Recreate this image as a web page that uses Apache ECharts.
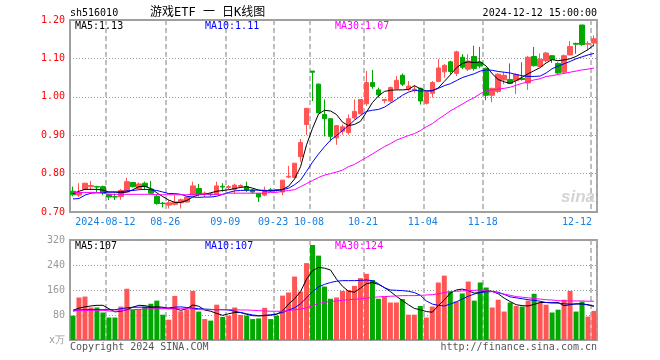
<!DOCTYPE html>
<html><head><meta charset="utf-8">
<script src="https://cdn.jsdelivr.net/npm/echarts/dist/echarts.min.js"></script>
<style>html,body{margin:0;padding:0;background:#fff}#c{width:660px;height:360px}</style>
</head><body><div id="c"></div>
<script>
const dates = ['2024-08-02','2024-08-05','2024-08-06','2024-08-07','2024-08-08','2024-08-09',
'2024-08-12','2024-08-13','2024-08-14','2024-08-15','2024-08-16','2024-08-19','2024-08-20','2024-08-21','2024-08-22','2024-08-23',
'2024-08-26','2024-08-27','2024-08-28','2024-08-29','2024-08-30','2024-09-02','2024-09-03','2024-09-04','2024-09-05','2024-09-06',
'2024-09-09','2024-09-10','2024-09-11','2024-09-12','2024-09-13','2024-09-18','2024-09-19','2024-09-20',
'2024-09-23','2024-09-24','2024-09-25','2024-09-26','2024-09-27','2024-09-30',
'2024-10-08','2024-10-09','2024-10-10','2024-10-11','2024-10-14','2024-10-15','2024-10-16','2024-10-17','2024-10-18',
'2024-10-21','2024-10-22','2024-10-23','2024-10-24','2024-10-25','2024-10-28','2024-10-29','2024-10-30','2024-10-31','2024-11-01',
'2024-11-04','2024-11-05','2024-11-06','2024-11-07','2024-11-08','2024-11-11','2024-11-12','2024-11-13','2024-11-14','2024-11-15',
'2024-11-18','2024-11-19','2024-11-20','2024-11-21','2024-11-22','2024-11-25','2024-11-26','2024-11-27','2024-11-28','2024-11-29',
'2024-12-02','2024-12-03','2024-12-04','2024-12-05','2024-12-06','2024-12-09','2024-12-10','2024-12-11','2024-12-12'];

const opens = [0.754,0.744,0.759,0.766,0.766,0.766,0.746,0.740,0.740,0.752,
0.777,0.761,0.775,0.760,0.741,0.723,0.718,0.720,0.724,0.726,
0.744,0.761,0.747,0.747,0.746,0.767,0.764,0.759,0.766,0.766,
0.757,0.748,0.744,0.758,0.758,0.752,0.791,0.790,0.844,0.928,
1.067,1.033,0.954,0.943,0.893,0.910,0.907,0.945,0.956,0.982,
1.037,1.018,0.990,0.989,1.021,1.056,1.019,1.018,1.022,0.983,
1.009,1.040,1.065,1.091,1.061,1.103,1.072,1.105,1.090,1.074,
1.004,1.014,1.044,1.045,1.042,1.048,1.036,1.105,1.079,1.094,
1.107,1.087,1.064,1.109,1.139,1.187,1.137,1.140];
const closes = [0.745,0.750,0.775,0.769,0.765,0.750,0.739,0.739,0.756,0.779,
0.766,0.773,0.766,0.749,0.722,0.722,0.724,0.726,0.732,0.739,
0.768,0.746,0.749,0.745,0.768,0.765,0.766,0.770,0.769,0.757,
0.752,0.739,0.757,0.756,0.757,0.783,0.793,0.827,0.881,0.970,
1.064,0.958,0.943,0.897,0.925,0.922,0.943,0.962,0.993,1.037,
1.027,1.005,0.993,1.024,1.043,1.033,1.028,1.020,0.989,1.011,
1.037,1.075,1.082,1.066,1.117,1.077,1.093,1.074,1.080,1.004,
1.022,1.059,1.056,1.035,1.058,1.045,1.103,1.081,1.098,1.114,
1.097,1.062,1.107,1.131,1.137,1.136,1.139,1.151];
const lows = [0.741,0.739,0.759,0.757,0.752,0.744,0.731,0.731,0.732,0.752,
0.764,0.761,0.757,0.746,0.719,0.712,0.709,0.717,0.709,0.725,
0.742,0.741,0.739,0.741,0.744,0.753,0.760,0.748,0.763,0.752,
0.748,0.726,0.741,0.753,0.753,0.744,0.788,0.790,0.831,0.901,
0.989,0.958,0.897,0.884,0.875,0.901,0.901,0.941,0.954,0.976,
1.021,0.998,0.983,0.985,1.019,1.028,1.015,1.011,0.980,0.980,
0.998,1.038,1.050,1.059,1.054,1.072,1.067,1.068,1.074,0.991,
0.986,1.010,1.033,1.033,1.007,1.042,1.018,1.079,1.078,1.090,
1.088,1.060,1.063,1.108,1.112,1.133,1.121,1.131];
const highs = [0.766,0.775,0.776,0.781,0.768,0.769,0.748,0.748,0.760,0.789,
0.777,0.777,0.779,0.781,0.746,0.726,0.731,0.744,0.735,0.741,
0.779,0.773,0.753,0.749,0.779,0.775,0.770,0.774,0.772,0.779,
0.760,0.748,0.766,0.762,0.760,0.783,0.820,0.827,0.890,0.970,
1.067,1.035,0.993,0.943,0.925,0.928,0.954,0.993,0.993,1.067,
1.070,1.024,0.995,1.027,1.054,1.061,1.041,1.030,1.024,1.013,
1.041,1.098,1.085,1.094,1.120,1.111,1.111,1.133,1.130,1.076,
1.024,1.061,1.064,1.087,1.061,1.090,1.106,1.130,1.113,1.117,
1.108,1.090,1.110,1.145,1.141,1.187,1.145,1.160];

const ma5 = [0.748,0.754,0.759,0.759,0.759,0.757,0.752,0.752,0.750,0.752,
0.758,0.766,0.767,0.761,0.750,0.740,0.731,0.725,0.725,0.730,
0.739,0.745,0.746,0.750,0.754,0.756,0.758,0.761,0.764,0.766,
0.762,0.757,0.755,0.755,0.756,0.759,0.767,0.786,0.818,0.875,
0.918,0.955,0.965,0.963,0.954,0.934,0.925,0.928,0.936,0.960,
0.985,1.002,1.014,1.017,1.018,1.018,1.019,1.029,1.021,1.015,
1.016,1.023,1.040,1.057,1.075,1.087,1.091,1.089,1.091,1.080,
1.060,1.045,1.039,1.035,1.042,1.051,1.060,1.068,1.076,1.088,
1.097,1.094,1.096,1.099,1.105,1.114,1.123,1.135];
const ma10 = [0.734,0.735,0.744,0.749,0.750,0.750,0.752,0.752,0.753,0.755,
0.756,0.758,0.759,0.758,0.756,0.752,0.748,0.748,0.746,0.741,
0.739,0.738,0.739,0.739,0.741,0.746,0.751,0.755,0.756,0.757,
0.757,0.757,0.756,0.755,0.756,0.758,0.762,0.771,0.783,0.806,
0.830,0.851,0.870,0.887,0.899,0.912,0.925,0.939,0.951,0.962,
0.965,0.967,0.973,0.983,0.993,1.004,1.012,1.017,1.015,1.015,
1.016,1.022,1.029,1.034,1.042,1.050,1.055,1.060,1.067,1.070,
1.069,1.066,1.064,1.062,1.058,1.055,1.053,1.053,1.054,1.062,
1.073,1.080,1.086,1.092,1.099,1.104,1.109,1.113];
const ma30 = [0.751,0.751,0.751,0.751,0.751,0.749,0.746,0.746,0.746,0.746,
0.746,0.746,0.746,0.746,0.745,0.745,0.745,0.745,0.745,0.745,
0.746,0.746,0.746,0.746,0.746,0.746,0.749,0.749,0.749,0.749,
0.749,0.749,0.749,0.751,0.751,0.754,0.756,0.758,0.766,0.774,
0.782,0.790,0.796,0.800,0.804,0.809,0.818,0.824,0.833,0.842,
0.851,0.861,0.870,0.878,0.887,0.893,0.899,0.904,0.912,0.922,
0.930,0.942,0.952,0.963,0.972,0.981,0.990,0.998,1.008,1.016,
1.018,1.020,1.022,1.025,1.030,1.035,1.039,1.044,1.047,1.053,
1.055,1.058,1.061,1.064,1.067,1.070,1.072,1.075];

const volumes = [78,136,139,104,104,88,72,72,107,164,
96,99,107,116,126,81,65,141,92,97,
157,91,67,62,113,74,78,104,80,78,
67,69,103,67,78,142,152,203,155,246,
304,270,171,132,136,157,160,173,198,212,
192,132,139,120,120,131,81,81,109,72,
107,184,206,155,123,149,187,126,184,168,
104,129,91,120,109,107,126,148,120,113,
88,97,129,157,91,123,75,93];
const vma5 = [95,102,106,109,111,111,100,90,92,97,
105,111,110,106,106,105,100,101,95,100,
112,108,96,92,85,79,84,88,88,82,
78,77,78,80,82,93,115,132,155,195,
222,232,230,224,195,172,156,153,166,180,
184,178,168,155,140,126,113,101,97,91,
89,110,128,150,160,163,158,150,152,158,
156,148,134,123,113,110,109,114,120,120,
119,120,110,113,116,115,113,108];
const vma10 = [93,96,97,97,97,97,97,97,100,103,
105,105,105,104,103,102,103,105,106,104,
102,100,99,98,97,97,96,92,88,84,
80,78,79,80,84,88,96,103,116,135,
155,170,178,184,188,190,190,190,191,192,
190,180,167,160,159,158,156,152,143,125,
115,111,109,115,122,131,140,147,152,154,
155,153,146,138,135,132,129,127,124,120,
119,118,116,115,115,116,112,108];
const vma30 = [93,94,94,95,95,95,93,92,94,96,
97,98,99,100,100,100,100,100,100,100,
99,97,97,97,97,97,97,97,96,96,
95,94,93,92,92,92,94,97,99,103,
110,117,121,123,125,127,129,130,132,134,
136,138,139,140,141,142,142,142,143,144,
145,148,152,155,156,157,158,159,160,158,
155,150,147,143,139,137,135,133,131,129,
128,126,125,125,125,125,124,124];

const tickDates = ['2024-08-12','2024-08-26','2024-09-09','2024-09-23','2024-10-08','2024-10-21','2024-11-04','2024-11-18','2024-12-12'];
const priceTicks = [0.70, 0.80, 0.90, 1.00, 1.10, 1.20];
const volTicks = [0, 80, 160, 240, 320];

const MONO = "'DejaVu Sans Mono', monospace";
const UP = '#ff5555', DOWN = '#00a800';
const tickIdx = tickDates.map(d => dates.indexOf(d));
const isTick = i => tickIdx.indexOf(i) >= 0;
const candle = dates.map((d, i) => [opens[i], closes[i], lows[i], highs[i]]);
const volData = volumes.map((v, i) => ({value: v, itemStyle: {color: closes[i] >= opens[i] ? UP : DOWN}}));

const vSplit = {show: true, interval: (i) => isTick(i), lineStyle: {color: '#aaa', type: [5, 3], width: 1.5}};
const hSplit = {show: true, lineStyle: {color: '#999', type: [1, 2], width: 1}};

function txt(x, y, s, color, align, size, fam) {
  return {type: 'text', x: x, y: y, silent: true, z: 100,
    style: {text: s, fill: color, font: (size || 10) + 'px ' + (fam || MONO), textAlign: align || 'left', textVerticalAlign: 'middle'}};
}

const chart = echarts.init(document.getElementById('c'), null, {renderer: 'canvas'});
chart.setOption({
  animation: false,
  backgroundColor: '#fff',
  grid: [
    {left: 70, top: 20, width: 527, height: 192, show: true, borderColor: '#a0a0a0', borderWidth: 2},
    {left: 70, top: 240, width: 527, height: 100, show: true, borderColor: '#a0a0a0', borderWidth: 2}
  ],
  xAxis: [
    {type: 'category', gridIndex: 0, data: dates, boundaryGap: true,
      axisLine: {show: false}, axisTick: {show: false},
      axisLabel: {interval: (i) => isTick(i), margin: 5,
        formatter: (v, i) => {
          const t = (i === tickIdx[0]) ? v : v.slice(5);
          return (i === tickIdx[tickIdx.length - 1]) ? '{b|' + t + '}' : '{a|' + t + '}';
        },
        rich: {
          a: {color: '#1a80e0', fontFamily: MONO, fontSize: 10, padding: [0, 7, 0, 0]},
          b: {color: '#1a80e0', fontFamily: MONO, fontSize: 10, padding: [0, 34, 0, 0]}
        }},
      splitLine: vSplit},
    {type: 'category', gridIndex: 1, data: dates, boundaryGap: true,
      axisLine: {show: false}, axisTick: {show: false}, axisLabel: {show: false},
      splitLine: vSplit}
  ],
  yAxis: [
    {type: 'value', gridIndex: 0, min: priceTicks[0], max: priceTicks[priceTicks.length - 1], interval: 0.1,
      axisLine: {show: false}, axisTick: {show: false},
      axisLabel: {color: '#ff0000', fontFamily: MONO, fontSize: 10, margin: 5, formatter: v => v.toFixed(2)},
      splitLine: hSplit},
    {type: 'value', gridIndex: 1, min: volTicks[0], max: volTicks[volTicks.length - 1], interval: 80,
      axisLine: {show: false}, axisTick: {show: false},
      axisLabel: {color: '#999', fontFamily: MONO, fontSize: 10, margin: 5, formatter: v => v === 0 ? 'x万' : String(v)},
      splitLine: hSplit}
  ],
  series: [
    {type: 'candlestick', xAxisIndex: 0, yAxisIndex: 0, data: candle, barWidth: 5,
      itemStyle: {color: UP, color0: DOWN, borderColor: UP, borderColor0: DOWN, borderWidth: 1}},
    {type: 'line', xAxisIndex: 0, yAxisIndex: 0, data: ma5, symbol: 'none', lineStyle: {color: '#000', width: 1}},
    {type: 'line', xAxisIndex: 0, yAxisIndex: 0, data: ma10, symbol: 'none', lineStyle: {color: '#0000ff', width: 1}},
    {type: 'line', xAxisIndex: 0, yAxisIndex: 0, data: ma30, symbol: 'none', lineStyle: {color: '#ff00ff', width: 1}},
    {type: 'bar', xAxisIndex: 1, yAxisIndex: 1, data: volData, barWidth: 5},
    {type: 'line', xAxisIndex: 1, yAxisIndex: 1, data: vma5, symbol: 'none', lineStyle: {color: '#000', width: 1}},
    {type: 'line', xAxisIndex: 1, yAxisIndex: 1, data: vma10, symbol: 'none', lineStyle: {color: '#0000ff', width: 1}},
    {type: 'line', xAxisIndex: 1, yAxisIndex: 1, data: vma30, symbol: 'none', lineStyle: {color: '#ff00ff', width: 1}}
  ],
  graphic: [
    txt(70, 13, 'sh516010', '#000'),
    txt(150, 13, '游戏ETF 一 日K线图', '#000', 'left', 12, MONO + ", 'Noto Sans CJK SC'"),
    txt(597, 13, '2024-12-12 15:00:00', '#000', 'right'),
    txt(75, 26, 'MA5:1.13', '#000'),
    txt(205, 26, 'MA10:1.11', '#0000ff'),
    txt(335, 26, 'MA30:1.07', '#ff00ff'),
    txt(75, 246, 'MA5:107', '#000'),
    txt(205, 246, 'MA10:107', '#0000ff'),
    txt(335, 246, 'MA30:124', '#ff00ff'),
    txt(70, 347, 'Copyright 2024 SINA.COM', '#555'),
    txt(597, 347, 'http://finance.sina.com.cn', '#555', 'right'),
    {type: 'text', x: 595, y: 197, silent: true, z: 1,
      style: {text: 'sina', fill: '#d4d4d4', font: 'italic bold 17px Arial, sans-serif', textAlign: 'right', textVerticalAlign: 'middle'}}
  ]
});
</script></body></html>
